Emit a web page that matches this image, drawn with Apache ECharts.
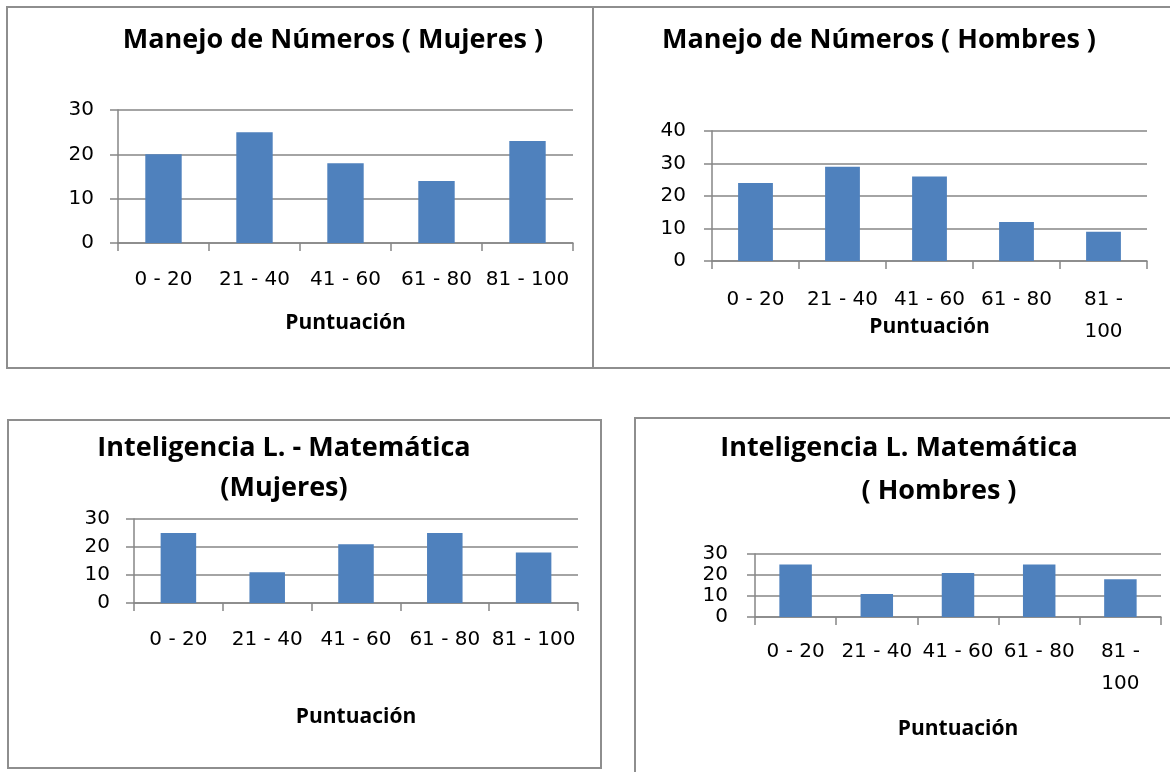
<!DOCTYPE html>
<html>
<head>
<meta charset="utf-8">
<script src="https://cdn.jsdelivr.net/npm/echarts@6/dist/echarts.min.js"></script>
<style>
html,body{margin:0;padding:0;background:#fff;}
#c{width:1170px;height:772px;}
</style>
</head>
<body>
<div id="c"></div>
<script>
const categories = ['0 - 20', '21 - 40', '41 - 60', '61 - 80', '81 - 100'];
const numerosMujeres = [20, 25, 18, 14, 23];
const numerosHombres = [24, 29, 26, 12, 9];
const inteligenciaMujeres = [25, 11, 21, 25, 18];
const inteligenciaHombres = [25, 11, 21, 25, 18];
const yMax = [30, 40, 30, 30];
const axisTitle = 'Puntuación';

const TITLE_FONT = 'Open Sans';
const LABEL_FONT = 'DejaVu Sans';
const GRAY = '#868686';
const BAR = '#4F81BD';

const grids = [
  {left: 118, top: 110, width: 455, height: 133},
  {left: 712, top: 131, width: 435, height: 130},
  {left: 134, top: 519, width: 444, height: 84},
  {left: 755, top: 554, width: 406, height: 63}
];
const labelMargin = [21, 23, 21, 19];
const nameGap = [70, 56, 104, 102];
const yLabelMargin = [24, 26, 24, 27];
const wrapLast = [false, true, false, true];

const chart = echarts.init(document.getElementById('c'), null, {renderer: 'canvas'});

const xAxes = grids.map((g, i) => ({
  type: 'category', gridIndex: i, data: categories,
  axisLine: {show: true, lineStyle: {color: GRAY, width: 1.5}},
  axisTick: {show: true, length: 8, lineStyle: {color: GRAY, width: 1.5}},
  axisLabel: {
    color: '#000', fontFamily: LABEL_FONT, fontSize: 20, margin: labelMargin[i], lineHeight: 32, interval: 0,
    formatter: v => (wrapLast[i] && v === '81 - 100') ? '81 -\n100' : v
  },
  name: axisTitle, nameLocation: 'middle', nameGap: nameGap[i], nameMoveOverlap: false,
  nameTextStyle: {color: '#000', fontFamily: TITLE_FONT, fontSize: 21, fontWeight: 'bold'}
}));

const yAxes = grids.map((g, i) => ({
  type: 'value', gridIndex: i, min: 0, max: yMax[i], interval: 10,
  axisLine: {show: true, lineStyle: {color: GRAY, width: 1.5}},
  axisTick: {show: true, length: 8, lineStyle: {color: GRAY, width: 1.5}},
  axisLabel: {color: '#000', fontFamily: LABEL_FONT, fontSize: 20, margin: yLabelMargin[i]},
  splitLine: {show: true, lineStyle: {color: GRAY, width: 1.5}}
}));

const seriesData = [numerosMujeres, numerosHombres, inteligenciaMujeres, inteligenciaHombres];
const series = seriesData.map((d, i) => ({
  type: 'bar', xAxisIndex: i, yAxisIndex: i, data: d,
  barCategoryGap: '60%',
  itemStyle: {color: BAR},
  silent: true
}));

const tStyle = {color: '#000', fontFamily: TITLE_FONT, fontSize: 27, fontWeight: 'bold'};
const titles = [
  {text: 'Manejo de Números ( Mujeres )', left: 333, top: 27},
  {text: 'Manejo de Números ( Hombres )', left: 879, top: 27},
  {text: 'Inteligencia L. - Matemática', left: 284, top: 435},
  {text: '(Mujeres)', left: 284, top: 475},
  {text: 'Inteligencia L. Matemática', left: 899, top: 435},
  {text: '( Hombres )', left: 939, top: 478}
].map(t => Object.assign({textAlign: 'center', padding: 0, textStyle: tStyle}, t));

const BORDER = '#8e8e8e';
const graphic = [
  {type: 'rect', shape: {x: 7, y: 7, width: 1175, height: 361}, style: {fill: 'none', stroke: BORDER, lineWidth: 2}, silent: true},
  {type: 'line', shape: {x1: 593, y1: 7, x2: 593, y2: 368}, style: {stroke: BORDER, lineWidth: 2}, silent: true},
  {type: 'rect', shape: {x: 8, y: 420, width: 593, height: 348}, style: {fill: 'none', stroke: BORDER, lineWidth: 2}, silent: true},
  {type: 'rect', shape: {x: 635, y: 418, width: 600, height: 400}, style: {fill: 'none', stroke: BORDER, lineWidth: 2}, silent: true}
];

chart.setOption({
  animation: false,
  backgroundColor: '#fff',
  title: titles,
  grid: grids.map(g => Object.assign({containLabel: false}, g)),
  xAxis: xAxes,
  yAxis: yAxes,
  series: series,
  graphic: graphic
});
</script>
</body>
</html>
